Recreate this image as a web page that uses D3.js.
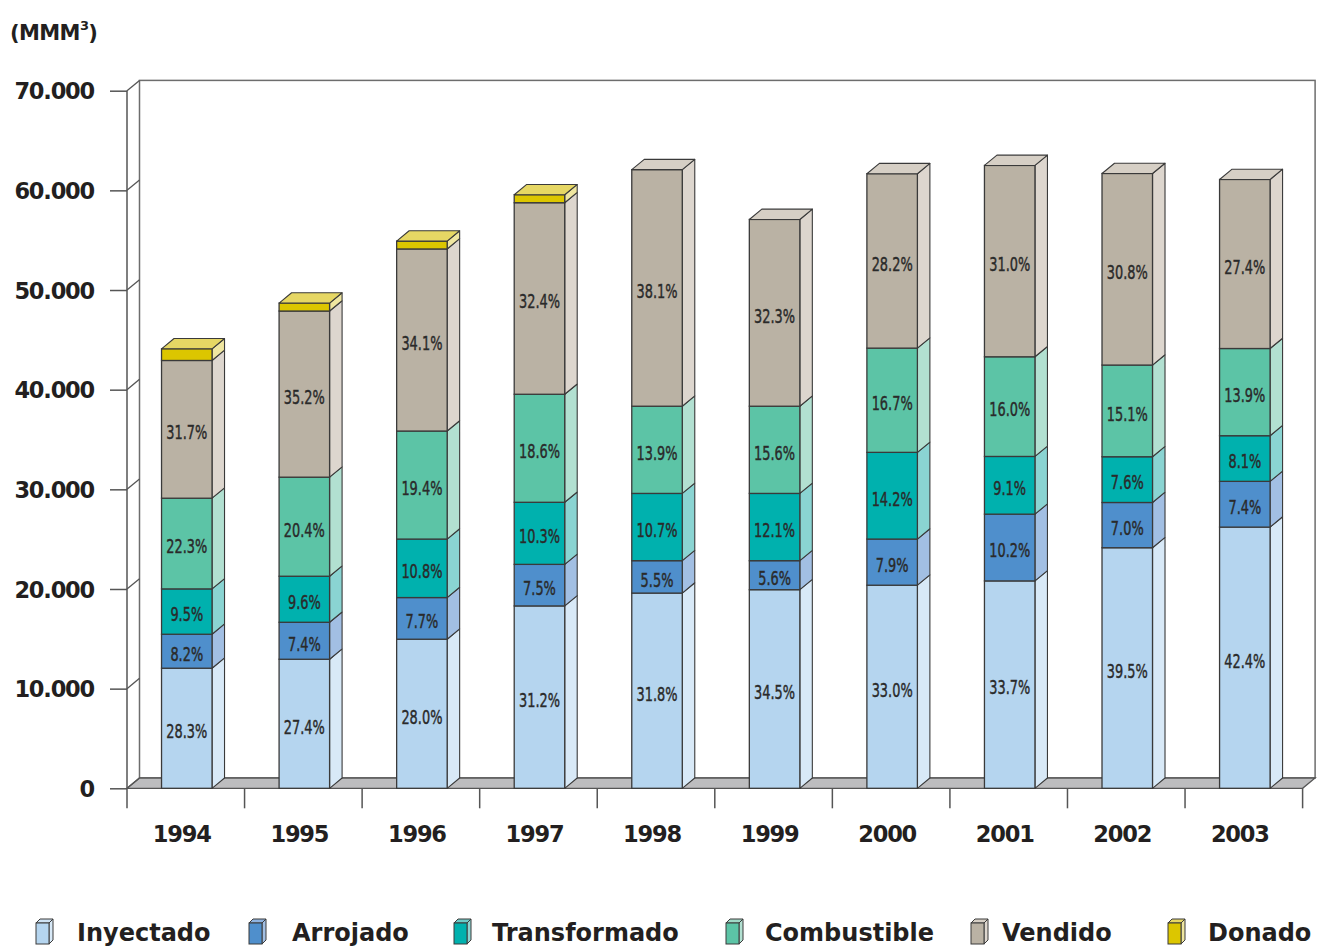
<!DOCTYPE html>
<html><head><meta charset="utf-8">
<script src="https://cdn.jsdelivr.net/npm/d3@7"></script>
<style>
html,body{margin:0;padding:0;background:#fff;}
svg{display:block;}
</style></head>
<body>
<svg id="chart" width="1320" height="947"></svg>
<script>
// ---------------- data ----------------
const years = ['1994','1995','1996','1997','1998','1999','2000','2001','2002','2003'];
const seriesNames = ['Inyectado','Arrojado','Transformado','Combustible','Vendido','Donado'];
const inyectado    = [12050, 12950, 14960, 18300, 19590, 19930, 20380, 20810, 24140, 26210];
const arrojado     = [ 3410,  3710,  4180,  4170,  3250,  2910,  4630,  6700,  4540,  4590];
const transformado = [ 4550,  4620,  5870,  6230,  6750,  6750,  8700,  5790,  4590,  4580];
const combustible  = [ 9100,  9940, 10840, 10840,  8750,  8750, 10460, 10000,  9200,  8750];
const vendido      = [13820, 16670, 18270, 19220, 23740, 18740, 17500, 19200, 19220, 16960];
const donado       = [ 1170,   800,   790,   800,     0,     0,     0,     0,     0,     0];
const pctInyectado    = [28.3, 27.4, 28.0, 31.2, 31.8, 34.5, 33.0, 33.7, 39.5, 42.4];
const pctArrojado     = [ 8.2,  7.4,  7.7,  7.5,  5.5,  5.6,  7.9, 10.2,  7.0,  7.4];
const pctTransformado = [ 9.5,  9.6, 10.8, 10.3, 10.7, 12.1, 14.2,  9.1,  7.6,  8.1];
const pctCombustible  = [22.3, 20.4, 19.4, 18.6, 13.9, 15.6, 16.7, 16.0, 15.1, 13.9];
const pctVendido      = [31.7, 35.2, 34.1, 32.4, 38.1, 32.3, 28.2, 31.0, 30.8, 27.4];
const yTicks = [0, 10000, 20000, 30000, 40000, 50000, 60000, 70000];
const unitLabel = '(MMM';

// ---------------- styles / layout ----------------
const frontColor = ['#b5d5ef','#4f8fcc','#00b1ae','#5cc4a6','#bab2a4','#dcc600'];
const sideColor  = ['#d8e9f7','#a2bfe3','#8ad4d2','#b2e0d1','#ddd6ce','#efe6a0'];
const topColor   = ['#cfe3f4','#8fb3df','#6ccac7','#a0d9c7','#d6cfc5','#e6d764'];
const legendIconX = [36, 249, 454, 726, 971, 1168];
const legendTextX = [77, 292, 492, 765, 1002, 1208];
const DX = 12.5, DY = 10.3;
const X0 = 127, X1 = 1302.6, Y0 = 788.3, YTOP = 90.7;
const BAR_W = 50.5;
const boldFont = '"DejaVu Sans", sans-serif';

const values = [inyectado, arrojado, transformado, combustible, vendido, donado];
const pcts = [pctInyectado, pctArrojado, pctTransformado, pctCombustible, pctVendido];
const table = years.map((yr, i) => {
  const o = {year: yr};
  seriesNames.forEach((s, k) => o[s] = values[k][i]);
  return o;
});
const stacked = d3.stack().keys(seriesNames)(table);

const svg = d3.select('#chart');
const x = d3.scaleBand().domain(years).range([X0, X1]).padding(0);
const y = d3.scaleLinear().domain([0, 70000]).range([Y0, YTOP]);

// back wall
const wallRight = X1 + DX;
svg.append('rect').attr('x', X0 + DX).attr('y', y(70000) - DY)
  .attr('width', wallRight - (X0 + DX)).attr('height', Y0 - DY - (y(70000) - DY))
  .attr('fill', '#fff').attr('stroke', '#6d6d6d').attr('stroke-width', 1.5);

// floor
svg.append('path')
  .attr('d', `M${X0},${Y0} L${X1},${Y0} L${X1+DX},${Y0-DY} L${X0+DX},${Y0-DY} Z`)
  .attr('fill', '#bdbdbf').attr('stroke', '#555').attr('stroke-width', 1.3);

// front-left axis line
svg.append('line').attr('x1', X0).attr('x2', X0).attr('y1', y(70000)).attr('y2', Y0)
  .attr('stroke', '#555').attr('stroke-width', 1.5);

// y axis (labels + horizontal ticks) using d3 axis
const yAxis = d3.axisLeft(y).tickValues(yTicks).tickSize(17).tickSizeOuter(0)
  .tickFormat(d => d === 0 ? '0' : String(d / 1000) + '.000');
const gy = svg.append('g').attr('transform', `translate(${X0},0)`).call(yAxis);
gy.select('.domain').remove();
gy.selectAll('.tick line').attr('stroke', '#555').attr('stroke-width', 1.5);
gy.selectAll('.tick text')
  .attr('x', -33).attr('dy', '0.36em')
  .style('font-family', boldFont).style('letter-spacing', '-1.2px')
  .style('font-weight', 700).style('font-size', '22.5px').attr('fill', '#231f20');
// diagonal tick connectors to back wall
svg.append('g').selectAll('line').data(yTicks).join('line')
  .attr('x1', X0).attr('y1', d => y(d)).attr('x2', X0 + DX).attr('y2', d => y(d) - DY)
  .attr('stroke', '#555').attr('stroke-width', 1.3);

// bottom ticks at band boundaries
const bounds = years.map(d => x(d)).concat([X1]);
svg.append('g').selectAll('line').data(bounds).join('line')
  .attr('x1', d => d).attr('x2', d => d).attr('y1', Y0).attr('y2', Y0 + 20)
  .attr('stroke', '#555').attr('stroke-width', 1.5);

// bottom labels via axis
const xAxis = d3.axisBottom(x).tickSize(0).tickSizeOuter(0);
const gx = svg.append('g').attr('transform', `translate(-4,${Y0})`).call(xAxis);
gx.select('.domain').remove();
gx.selectAll('.tick text').attr('y', 54).attr('dy', 0)
  .style('font-family', boldFont).style('letter-spacing', '-1.2px')
  .style('font-weight', 700).style('font-size', '22.5px').attr('fill', '#231f20');

// bars
const frontX = d => x(d) + x.bandwidth() / 2 - BAR_W / 2 + 1;
const bars = svg.append('g');
years.forEach((yr, i) => {
  const g = bars.append('g');
  const fx = frontX(yr), fx2 = fx + BAR_W;
  let topK = -1;
  stacked.forEach((layer, k) => {
    const v0 = layer[i][0], v1 = layer[i][1];
    if (v1 - v0 <= 0) return;
    topK = k;
    const yb = y(v0), yt = y(v1);
    g.append('path')
      .attr('d', `M${fx2},${yb} L${fx2+DX},${yb-DY} L${fx2+DX},${yt-DY} L${fx2},${yt} Z`)
      .attr('fill', sideColor[k]).attr('stroke', '#3a3a3a').attr('stroke-width', 1.1).attr('stroke-linejoin', 'round');
    g.append('rect').attr('x', fx).attr('y', yt).attr('width', BAR_W).attr('height', yb - yt)
      .attr('fill', frontColor[k]).attr('stroke', '#3a3a3a').attr('stroke-width', 1.3);
  });
  // top face
  const tv = stacked[topK][i][1];
  const yt = y(tv);
  g.append('path')
    .attr('d', `M${fx},${yt} L${fx2},${yt} L${fx2+DX},${yt-DY} L${fx+DX},${yt-DY} Z`)
    .attr('fill', topColor[topK]).attr('stroke', '#3a3a3a').attr('stroke-width', 1.1).attr('stroke-linejoin', 'round');
  // labels
  pcts.forEach((arr, k) => {
    const v0 = stacked[k][i][0], v1 = stacked[k][i][1];
    const cy = (y(v0) + y(v1)) / 2 + 3;
    g.append('text')
      .attr('transform', `translate(${fx + BAR_W / 2},${cy}) scale(0.68,1)`)
      .attr('text-anchor', 'middle').attr('dy', '0.36em')
      .style('font-family', '"DejaVu Sans", sans-serif')
      .style('font-size', '19px').attr('fill', '#2a2a2a')
      .attr('stroke', '#2a2a2a').attr('stroke-width', 0.45)
      .text(arr[i].toFixed(1) + '%');
  });
});

// unit label
const ut = svg.append('text').attr('x', 10).attr('y', 40)
  .style('font-family', boldFont).style('font-weight', 700)
  .style('font-size', '21px').style('letter-spacing', '-0.6px').attr('fill', '#231f20');
ut.append('tspan').text(unitLabel);
ut.append('tspan').attr('dy', -10).style('font-size', '13px').text('3');
ut.append('tspan').attr('dy', 10).text(')');

// legend
const lg = svg.append('g');
seriesNames.forEach((name, k) => {
  const lx = legendIconX[k], ly = 923, w = 13, h = 21, dx = 4, dy = 4;
  lg.append('path').attr('d', `M${lx+w},${ly+h} L${lx+w+dx},${ly+h-dy} L${lx+w+dx},${ly-dy} L${lx+w},${ly} Z`)
    .attr('fill', sideColor[k]).attr('stroke', '#3a3a3a').attr('stroke-width', 1);
  lg.append('path').attr('d', `M${lx},${ly} L${lx+w},${ly} L${lx+w+dx},${ly-dy} L${lx+dx},${ly-dy} Z`)
    .attr('fill', topColor[k]).attr('stroke', '#3a3a3a').attr('stroke-width', 1);
  lg.append('rect').attr('x', lx).attr('y', ly).attr('width', w).attr('height', h)
    .attr('fill', frontColor[k]).attr('stroke', '#3a3a3a').attr('stroke-width', 1);
  lg.append('text').attr('x', legendTextX[k]).attr('y', 941)
    .style('font-family', boldFont).style('font-weight', 700)
    .style('font-size', '24px').attr('fill', '#231f20').text(name);
});
</script>
</body></html>
